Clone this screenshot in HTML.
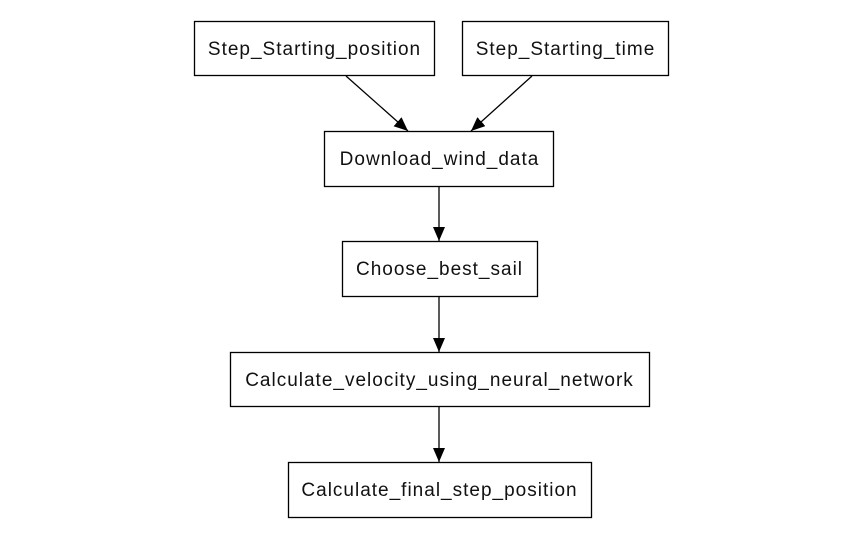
<!DOCTYPE html>
<html><head><meta charset="utf-8"><style>
html,body{margin:0;padding:0;background:#fff;}
svg{display:block;}
text{font-family:"Liberation Sans",Arial,sans-serif;font-size:19px;letter-spacing:1px;fill:#111;}
</style></head><body>
<svg width="860" height="536" viewBox="0 0 860 536" xmlns="http://www.w3.org/2000/svg">
<defs><marker id="a" markerWidth="14" markerHeight="12" refX="14" refY="6" orient="auto" markerUnits="userSpaceOnUse" viewBox="0 0 14 12"><path d="M0,0 L14,6 L0,12 z" fill="#000"/></marker></defs>
<g fill="none" stroke="#000" stroke-width="1.3">
<rect x="194.5" y="21.5" width="240" height="54"/>
<rect x="462.5" y="21.5" width="206" height="54"/>
<rect x="324.5" y="131.5" width="229" height="55"/>
<rect x="342.5" y="241.5" width="195" height="55"/>
<rect x="230.5" y="352.5" width="419" height="54"/>
<rect x="288.5" y="462.5" width="303" height="55"/>
</g>
<g stroke="#000" stroke-width="1.3" fill="none">
<path d="M346,76 L408,131" marker-end="url(#a)"/>
<path d="M532,76 L471,131" marker-end="url(#a)"/>
<path d="M439,187 L439,241" marker-end="url(#a)"/>
<path d="M439,297 L439,352" marker-end="url(#a)"/>
<path d="M439,407 L439,462" marker-end="url(#a)"/>
</g>
<g text-anchor="middle">
<text x="314.5" y="55">Step_Starting_position</text>
<text x="565.5" y="55">Step_Starting_time</text>
<text x="439.5" y="165">Download_wind_data</text>
<text x="439.5" y="275">Choose_best_sail</text>
<text x="439.5" y="386">Calculate_velocity_using_neural_network</text>
<text x="439.5" y="496">Calculate_final_step_position</text>
</g>
</svg>
</body></html>
